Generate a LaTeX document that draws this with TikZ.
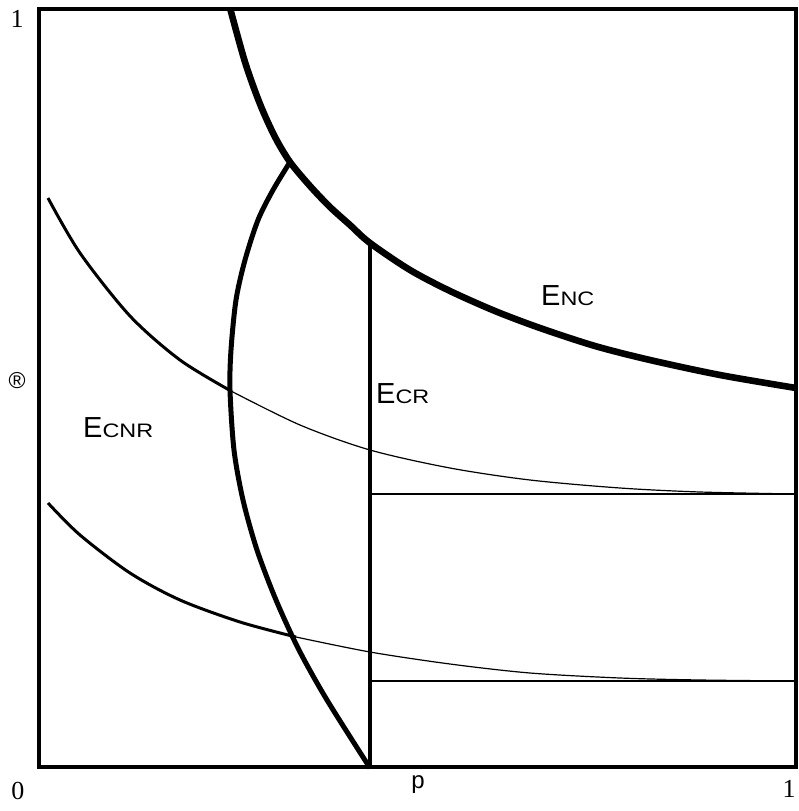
\documentclass[tikz,border=0pt]{standalone}
\usepackage{fontspec}
\setmainfont{Liberation Serif}
\newfontfamily\sansf{Liberation Sans}
\newcommand\elab[1]{{\sansf\fontsize{29}{29}\selectfont E}\scalebox{1.2}[1]{\sansf\fontsize{19.5}{19.5}\selectfont #1}}
\tikzset{
  frame/.style={line width=3.6pt},
  ncline/.style={line width=6.6pt},
  parab/.style={line width=5pt},
  vline/.style={line width=4.8pt},
  thinA/.style={line width=3pt},
  thinB/.style={line width=1.2pt},
  hline/.style={line width=2.6pt},
  lab/.style={inner sep=0pt, anchor=base west},
  axlab/.style={inner sep=0pt, font=\fontsize{26}{26}\selectfont}
}
\begin{document}
\begin{tikzpicture}[x=1pt,y=-1pt]
\useasboundingbox (0,0) rectangle (798,811);
% frame
\draw[frame] (39,9) rectangle (796,767);
% upper thin curve
\draw[thinA] plot[smooth] coordinates {(48,198) (80,253) (130,316) (180,360) (231,391)};
\draw[thinB] plot[smooth] coordinates {(231,391) (300,425) (370,450) (450,468) (530,480) (620,488) (700,492) (796,494)};
% lower thin curve
\draw[thinA] plot[smooth] coordinates {(48,503) (80,535) (130,573) (180,600) (240,622) (296,637)};
\draw[thinB] plot[smooth] coordinates {(296,637) (370,652) (450,664) (530,673) (620,678) (700,680) (796,681)};
% horizontals
\draw[hline] (370,494) -- (796,494);
\draw[hline] (370,681) -- (796,681);
% vertical
\draw[vline] (370,243) -- (370,768);
% thick parabola
\draw[parab] plot[smooth] coordinates {(290,162) (273,190) (258,220) (245,260) (236,300) (231,350) (230,390) (234,450) (243,500) (257,550) (276,600) (299,650) (327,700) (370,768)};
% E_NC curve
\draw[ncline] plot[smooth] coordinates {(230,8) (245,62) (260,104) (275,137) (290,162) (310,186) (330,207) (350,225) (370,243) (410,270) (450,291) (495,311) (540,328) (595,346) (650,360) (720,375) (796,388)};
% labels
\node[lab] (enc) at (541,305) {\elab{NC}};
\node[lab] (ecr) at (376,403) {\elab{CR}};
\node[lab] (ecnr) at (83,437) {\elab{CNR}};
\node[axlab] (one) at (17,18.5) {1};
\node[axlab] (zero) at (18,791) {0};
\node[axlab] (oner) at (789,789) {1};
\node[inner sep=0pt, anchor=base, font=\sansf\fontsize{24}{24}\selectfont] (p) at (418,788) {p};
\node[inner sep=0pt, font=\sansf\fontsize{23}{23}\selectfont] (alpha) at (17,381) {®};
\end{tikzpicture}
\end{document}
